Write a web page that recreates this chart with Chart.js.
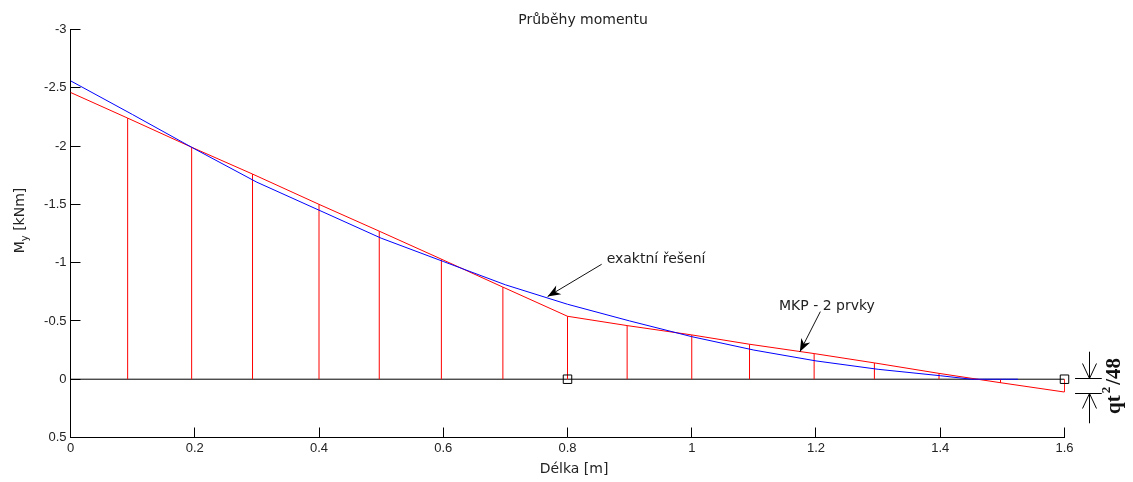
<!DOCTYPE html>
<html>
<head>
<meta charset="utf-8">
<script src="https://cdn.jsdelivr.net/npm/chart.js@4.4.0/dist/chart.umd.min.js"></script>
<style>
  html, body { margin: 0; padding: 0; background: #fff; }
  #wrap { width: 1133px; height: 482px; }
</style>
</head>
<body>
<div id="wrap"><canvas id="c" width="1133" height="482"></canvas></div>
<script>
// ----- data -----
const xTicks = [0, 0.2, 0.4, 0.6, 0.8, 1, 1.2, 1.4, 1.6];
const xTickLabels = ["0", "0.2", "0.4", "0.6", "0.8", "1", "1.2", "1.4", "1.6"];
const yTicks = [-3, -2.5, -2, -1.5, -1, -0.5, 0, 0.5];
const yTickLabels = ["-3", "-2.5", "-2", "-1.5", "-1", "-0.5", "0", "0.5"];

// MKP - 2 prvky (red); stems are drawn at every point except the first
const mkpX = [0, 0.092, 0.195, 0.293, 0.4, 0.497, 0.597, 0.696, 0.8, 0.896, 1.0, 1.093, 1.197, 1.294, 1.398, 1.497, 1.6];
const mkpM = [-2.46, -2.24, -1.99, -1.76, -1.5, -1.27, -1.03, -0.79, -0.54, -0.46, -0.38, -0.3, -0.22, -0.14, -0.05, 0.03, 0.11];

// exaktní řešení (blue)
const exactX = [0, 0.1, 0.2, 0.3, 0.4, 0.5, 0.6, 0.7, 0.8, 0.9, 1.0, 1.1, 1.2, 1.3, 1.4, 1.45, 1.525];
const exactM = [-2.56, -2.27, -1.975, -1.69, -1.45, -1.21, -1.01, -0.81, -0.643, -0.5, -0.365, -0.25, -0.157, -0.085, -0.03, 0, 0];

// beam axis and nodes
const baseX = [0, 1.6];
const baseM = [0, 0];
const nodeX = [0.8, 1.6];
const nodeM = [0, 0];

// annotation anchors (data units)
const exactNote = { text: "exaktní řešení", tx: 0.863, ty: -0.997, from: [0.855, -0.986], to: [0.768, -0.709] };
const mkpNote = { text: "MKP - 2 prvky", tx: 1.1405, ty: -0.59, from: [1.207, -0.58], to: [1.174, -0.235] };
const dim = { x: 1.641, left: 1.617, right: 1.66, upper: -0.01, lower: 0.12, top: -0.236, bottom: 0.378, textX: 1.689 };

const TXT = "#222";
const SANS = "'DejaVu Sans', Verdana, sans-serif";
const TICKFONT = { family: "'Liberation Sans', Arial, sans-serif", size: 13 };

const pts = (xs, ys) => xs.map((v, i) => ({ x: v, y: ys[i] }));
const stems = [];
mkpX.forEach((v, i) => {
  if (i === 0) return;
  stems.push({ x: v, y: 0 }, { x: v, y: mkpM[i] }, { x: v, y: null });
});

const decor = {
  id: "decor",
  afterDraw(chart) {
    const { ctx, chartArea: a, scales: { x, y } } = chart;
    const X = v => x.getPixelForValue(v), Y = v => y.getPixelForValue(v);
    ctx.save();

    // inward tick marks
    ctx.strokeStyle = "#000"; ctx.lineWidth = 1;
    ctx.beginPath();
    yTicks.forEach(v => { const p = Math.floor(Y(v)) + 0.5; ctx.moveTo(a.left, p); ctx.lineTo(a.left + 10, p); });
    xTicks.forEach(v => { const p = Math.floor(X(v)) + 0.5; ctx.moveTo(p, a.bottom); ctx.lineTo(p, a.bottom - 10); });
    ctx.stroke();

    // title + axis titles
    ctx.fillStyle = TXT;
    ctx.font = "14px " + SANS;
    ctx.textAlign = "center"; ctx.textBaseline = "alphabetic";
    ctx.fillText("Průběhy momentu", 583, 24);
    ctx.fillText("Délka [m]", 574, 473);

    ctx.save();
    ctx.translate(24, 220.5); ctx.rotate(-Math.PI / 2);
    ctx.textAlign = "left";
    const big = "14px " + SANS, small = "10px " + SANS;
    ctx.font = big; const wM = ctx.measureText("M").width, wR = ctx.measureText(" [kNm]").width;
    ctx.font = small; const wy = ctx.measureText("y").width;
    let sx = -(wM + wy + wR) / 2;
    ctx.font = big; ctx.fillText("M", sx, 0); sx += wM;
    ctx.font = small; ctx.fillText("y", sx, 4); sx += wy;
    ctx.font = big; ctx.fillText(" [kNm]", sx, 0);
    ctx.restore();

    // labelled arrows
    function arrow(x1, y1, x2, y2) {
      const ang = Math.atan2(y2 - y1, x2 - x1), L = 13, W = 5;
      ctx.beginPath(); ctx.moveTo(x1, y1); ctx.lineTo(x2, y2); ctx.stroke();
      const c = Math.cos(ang), s = Math.sin(ang);
      const bx = x2 - L * c, by = y2 - L * s, nx = bx + 0.3 * L * c, ny = by + 0.3 * L * s;
      ctx.beginPath();
      ctx.moveTo(x2, y2);
      ctx.lineTo(bx - s * W, by + c * W);
      ctx.lineTo(nx, ny);
      ctx.lineTo(bx + s * W, by - c * W);
      ctx.closePath(); ctx.fill();
    }
    ctx.font = "14px " + SANS; ctx.textAlign = "left";
    ctx.strokeStyle = "#111"; ctx.fillStyle = "#000";
    [exactNote, mkpNote].forEach(n => {
      arrow(X(n.from[0]), Y(n.from[1]), X(n.to[0]), Y(n.to[1]));
      ctx.fillStyle = TXT; ctx.fillText(n.text, X(n.tx), Y(n.ty)); ctx.fillStyle = "#000";
    });

    // dimension mark at the free end
    const dx = Math.floor(X(dim.x)) + 0.5;
    const yu = Math.floor(Y(dim.upper)) + 0.5, yl = Math.floor(Y(dim.lower)) + 0.5;
    ctx.strokeStyle = "#000";
    ctx.beginPath();
    ctx.moveTo(X(dim.left), yu); ctx.lineTo(X(dim.right), yu);
    ctx.moveTo(X(dim.left), yl); ctx.lineTo(X(dim.right), yl);
    ctx.moveTo(dx, Y(dim.top)); ctx.lineTo(dx, yu);
    ctx.moveTo(dx - 7, yu - 15); ctx.lineTo(dx, yu); ctx.lineTo(dx + 7, yu - 15);
    ctx.moveTo(dx, Y(dim.bottom)); ctx.lineTo(dx, yl);
    ctx.moveTo(dx - 7, yl + 15); ctx.lineTo(dx, yl); ctx.lineTo(dx + 7, yl + 15);
    ctx.stroke();

    ctx.save();
    ctx.translate(X(dim.textX), (yu + yl) / 2); ctx.rotate(-Math.PI / 2);
    ctx.fillStyle = "#111"; ctx.textAlign = "left";
    const f1 = "bold 21px 'Liberation Serif', 'Times New Roman', serif";
    const f2 = "bold 13px 'Liberation Serif', 'Times New Roman', serif";
    ctx.font = f1; const wq = ctx.measureText("qt").width, w48 = ctx.measureText("/48").width;
    ctx.font = f2; const w2 = ctx.measureText("2").width;
    const gap = 2;
    let tx = -(wq + w2 + w48 + 2 * gap) / 2;
    ctx.font = f1; ctx.fillText("qt", tx, 0); tx += wq + gap;
    ctx.font = f2; ctx.fillText("2", tx, -10); tx += w2 + gap;
    ctx.font = f1; ctx.fillText("/48", tx, 0);
    ctx.restore();

    ctx.restore();
  }
};

new Chart(document.getElementById("c"), {
  type: "scatter",
  data: {
    datasets: [
      { data: pts(nodeX, nodeM), order: 0, showLine: false, pointStyle: "rect", pointRadius: 6,
        borderColor: "#000", backgroundColor: "rgba(0,0,0,0)", borderWidth: 1, clip: false },
      { data: pts(exactX, exactM), order: 1, showLine: true, borderColor: "#0000ff", borderWidth: 1, pointRadius: 0 },
      { data: pts(mkpX, mkpM), order: 2, showLine: true, borderColor: "#ff0000", borderWidth: 1, pointRadius: 0 },
      { data: stems, order: 3, showLine: true, spanGaps: false, borderColor: "#ff0000", borderWidth: 1, pointRadius: 0 },
      { data: pts(baseX, baseM), order: 4, showLine: true, borderColor: "#000", borderWidth: 1, pointRadius: 0 }
    ]
  },
  options: {
    responsive: false,
    animation: false,
    layout: { padding: { top: 29.5, right: 68.5, left: 0, bottom: 0 } },
    plugins: { legend: { display: false }, tooltip: { enabled: false }, title: { display: false } },
    scales: {
      x: {
        type: "linear", min: 0, max: 1.6,
        afterFit: s => { s.height = 44.5; },
        afterBuildTicks: s => { s.ticks = xTicks.map(v => ({ value: v })); },
        grid: { display: false, drawTicks: false },
        border: { display: true, color: "#000", width: 1 },
        ticks: { color: TXT, font: TICKFONT, padding: 3, maxRotation: 0, autoSkip: false,
                 callback: (v, i) => xTickLabels[i] }
      },
      y: {
        type: "linear", min: -3, max: 0.5, reverse: true,
        afterFit: s => { s.width = 70.5; },
        afterBuildTicks: s => { s.ticks = yTicks.map(v => ({ value: v })); },
        grid: { display: false, drawTicks: false },
        border: { display: true, color: "#000", width: 1 },
        ticks: { color: TXT, font: TICKFONT, padding: 4, autoSkip: false,
                 callback: (v, i) => yTickLabels[i] }
      }
    }
  },
  plugins: [decor]
});
</script>
</body>
</html>
